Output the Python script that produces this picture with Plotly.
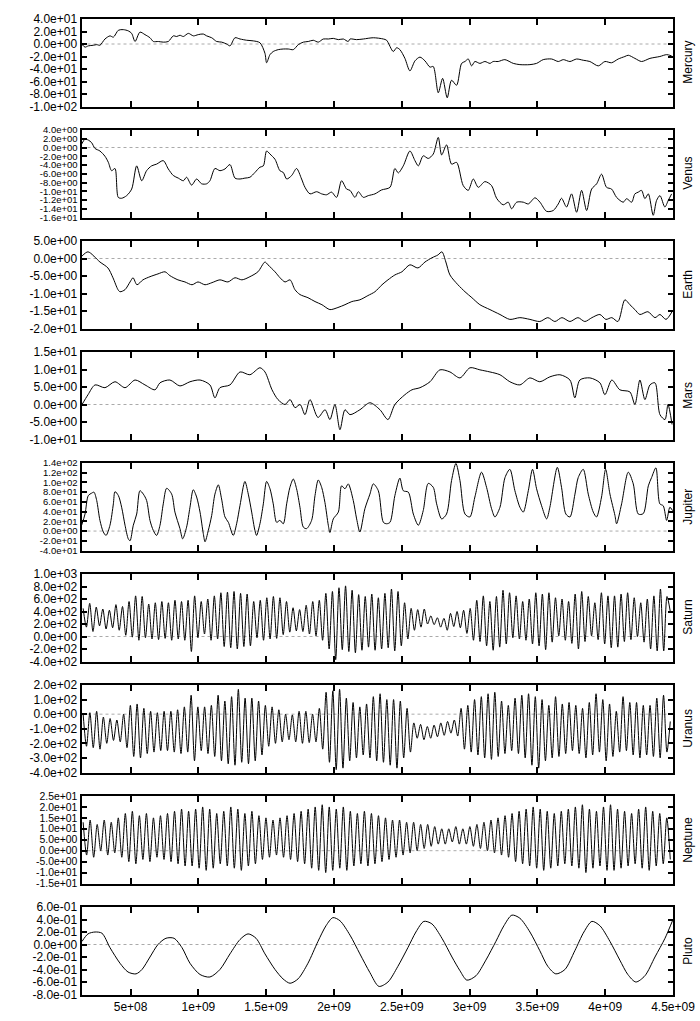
import numpy as np
import plotly.graph_objects as go

# ---------------- data (time in units of 1e9) ----------------
mer_t = [0.139,0.164,0.188,0.225,0.250,0.274,0.311,0.348,0.373,0.410,0.446,0.483,0.508,0.533,0.569,0.606,0.643,0.668,
         0.705,0.741,0.778,0.815,0.840,0.864,0.889,0.926,0.963,0.999,1.036,1.061,1.098,1.135,1.172,1.208,1.233,1.270,
         1.307,1.356,1.405,1.454,1.491,1.503,1.528,1.552,1.589,1.626,1.663,1.700,1.737,1.774,1.810,1.847,1.884,1.921,
         1.958,1.995,2.032,2.069,2.105,
         2.118,2.167,2.216,2.290,2.364,2.388,2.437,2.462,2.486,2.523,2.560,2.597,2.634,2.671,2.708,2.732,2.769,2.801,
         2.835,2.867,2.904,2.941,2.966,2.990,3.015,3.039,3.076,3.113,3.150,3.174,3.211,3.260,3.322,3.371,3.445,3.494,
         3.543,3.605,3.654,3.691,3.740,3.789,3.838,3.887,3.949,3.998,4.047,4.096,4.145,4.170,4.219,4.268,4.330,4.403,
         4.453,4.490]
mer_v = [0,-5,-3,-2,-1,-2,8,13,11,22,23,21,17,4,19,15,10,4,4,3,4,13,12,14,12,17,13,15,16,13,10,4,3,0,-3,10,
         8,6,5,2,-15,-30,-17,-12,-9,-8,-8,-9,-1,3,4,6,3,8,8,9,7,8,4,
         8,7,8,10,8,6,-12,-6,-9,-23,-43,-27,-21,-27,-37,-36,-78,-55,-86,-58,-66,-31,-28,-24,-35,-28,-31,-28,-31,-28,
         -28,-25,-31,-33,-33,-31,-25,-24,-28,-25,-28,-24,-26,-28,-35,-28,-30,-24,-20,-18,-23,-28,-23,-20,-17,-19]

ven_t = [0.139,0.164,0.188,0.213,0.237,0.274,0.311,0.336,0.360,0.385,0.409,0.434,0.471,0.508,0.545,0.582,0.618,0.655,
         0.692,0.741,0.778,0.815,0.852,0.889,0.913,0.950,0.987,1.024,1.061,1.085,1.122,1.159,1.196,1.233,1.270,1.307,
         1.343,1.380,1.417,1.454,1.479,1.503,1.528,1.565,1.601,1.626,1.651,1.688,1.724,1.761,1.786,1.823,1.872,1.909,
         1.946,1.982,2.019,2.056,2.093,2.118,
         2.155,2.179,2.216,2.253,2.302,2.351,2.413,2.449,2.474,2.511,2.560,2.597,2.622,2.658,2.695,2.732,2.769,2.794,
         2.830,2.867,2.904,2.953,2.990,3.027,3.064,3.113,3.162,3.199,3.248,3.285,3.310,3.347,3.396,3.433,3.482,3.519,
         3.568,3.617,3.654,3.678,3.715,3.752,3.789,3.826,3.863,3.900,3.937,3.973,4.010,4.047,4.084,4.133,4.158,4.195,
         4.219,4.244,4.268,4.293,4.318,4.354,4.379,4.404,4.440,4.465,4.490]
ven_v = [0.8,1.9,1.7,1.1,-0.2,-0.8,-2.0,-3.4,-5.3,-4.8,-11.4,-11.6,-11.0,-9.5,-4.2,-7.6,-5.3,-4.2,-3.8,-3.0,
         -4.9,-6.4,-7.0,-7.6,-6.8,-8.6,-7.2,-8.3,-8.3,-7.6,-4.8,-5.3,-4.9,-3.9,-7.0,-7.2,-7.0,-6.8,-5.7,-4.5,
         -4.2,-0.8,-1.5,-2.7,-5.3,-5.7,-7.2,-6.4,-4.8,-7.2,-9.1,-10.6,-10.1,-10.6,-10.8,-10.2,-11.4,-7.6,-9.5,-9.8,
         -11.4,-10.1,-11.4,-11.0,-10.6,-9.7,-9.1,-4.8,-5.8,-4.2,-0.8,-3.0,-4.2,-1.9,-2.5,-1.5,2.3,-1.7,0.6,-3.8,
         -3.4,-8.7,-9.8,-7.2,-9.1,-7.8,-8.7,-11.6,-13.1,-12.5,-14.0,-12.5,-12.5,-12.9,-11.5,-12.5,-14.6,-14.4,-12.9,-11.6,
         -13.6,-10.6,-14.8,-9.8,-14.4,-9.5,-8.3,-6.1,-9.1,-9.5,-11.4,-12.5,-11.7,-12.5,-10.6,-10.2,-9.8,-11.7,-10.6,-15.5,
         -12.1,-11.0,-13.6,-12.1,-10.6]

ear_t = [0.142,0.186,0.274,0.333,0.370,0.407,0.422,0.459,0.496,0.518,0.547,0.591,0.643,0.702,0.754,0.790,0.849,
         0.901,0.953,0.997,1.049,1.100,1.159,1.218,1.270,1.321,1.380,1.439,1.491,1.513,1.565,1.602,1.639,1.676,
         1.712,1.749,1.808,1.860,1.911,1.970,2.029,2.081,2.132,2.191,2.250,2.302,2.354,2.398,2.449,2.501,2.560,
         2.619,2.671,2.722,2.766,2.796,2.825,2.855,2.914,2.966,3.017,3.076,3.150,3.224,3.297,3.371,3.445,3.518,
         3.577,3.629,3.681,3.740,3.799,3.850,3.902,3.961,4.005,4.049,4.094,4.145,4.182,4.219,4.256,4.315,4.367,
         4.404,4.448,4.493]
ear_v = [0.7,1.9,-1.0,-2.7,-5.5,-8.9,-9.5,-8.9,-6.7,-5.5,-7.5,-6.1,-5.2,-4.4,-3.8,-4.9,-6.1,-6.7,-7.5,-6.7,
         -7.5,-6.9,-6.1,-6.7,-5.5,-6.1,-5.2,-3.8,-1.0,-1.8,-3.8,-5.5,-6.7,-6.1,-8.9,-10.3,-11.2,-12.3,-13.2,-14.6,
         -14.0,-13.2,-12.3,-11.8,-10.6,-9.5,-7.5,-6.1,-4.7,-3.8,-1.8,-2.7,-1.0,0.2,1.0,1.9,-1.0,-4.7,-7.5,-9.5,
         -11.2,-13.2,-14.6,-16.0,-17.4,-16.9,-17.4,-18.0,-16.9,-18.0,-16.9,-18.0,-16.9,-18.0,-16.9,-16.0,-17.4,
         -16.9,-18.0,-11.8,-13.2,-14.6,-16.0,-15.2,-16.9,-16.0,-17.4,-15.2]

mar_t = [0.142,0.186,0.238,0.311,0.385,0.459,0.533,0.606,0.680,0.717,0.790,0.864,0.938,1.012,1.085,1.122,1.159,
         1.233,1.307,1.380,1.454,1.491,1.543,1.587,1.639,1.676,1.713,1.750,1.786,1.823,1.882,1.934,1.970,2.007,
         2.044,2.081,2.118,2.191,2.265,2.339,2.398,2.449,2.523,2.575,2.634,2.708,2.781,2.855,2.929,3.003,3.076,
         3.150,3.224,3.297,3.371,3.445,3.518,3.592,3.666,3.740,3.776,3.813,3.887,3.961,3.998,4.049,4.108,4.182,
         4.219,4.256,4.293,4.330,4.367,4.404,4.441,4.463,4.493]
mar_v = [0.0,2.8,5.6,4.8,6.5,4.8,7.0,5.6,4.2,6.2,7.0,5.3,6.5,7.0,5.6,1.9,4.8,5.6,9.3,8.5,10.5,9.3,4.2,1.4,0.0,
         1.4,-0.9,0.0,-2.9,1.4,-3.7,-1.5,-4.3,0.0,-7.2,-1.5,-2.9,-1.5,0.5,-1.5,-4.3,0.0,2.8,4.2,4.8,6.5,9.9,9.3,
         7.6,10.5,9.9,9.3,8.5,6.5,5.6,7.6,6.5,7.9,8.5,7.0,1.9,7.0,7.6,6.2,2.8,7.0,4.2,3.6,0.0,7.0,1.4,5.6,6.2,
         -2.9,-4.3,0.0,-5.7]

jup_t = [0.139,0.164,0.188,0.213,0.230,0.250,0.274,0.299,0.319,0.348,0.373,0.385,0.410,0.434,0.459,0.483,0.496,
         0.520,0.545,0.569,0.594,0.618,0.643,0.668,0.692,0.717,0.741,0.766,0.803,0.827,0.864,0.884,0.913,0.938,
         0.962,0.987,1.012,1.036,1.049,1.073,1.098,1.122,1.147,1.171,1.196,1.221,1.257,1.282,1.307,1.343,1.368,
         1.393,1.417,1.429,1.454,1.479,1.503,1.528,1.552,1.577,1.601,1.626,1.651,1.675,1.700,1.724,1.749,1.774,
         1.798,1.835,1.860,1.884,1.909,1.933,1.958,1.970,1.995,2.032,2.056,2.081,2.105,2.142,2.167,2.191,2.228,
         2.265,2.290,2.327,2.364,2.388,2.413,2.449,2.486,2.511,2.548,2.585,2.622,2.658,2.695,2.732,2.757,2.794,
         2.830,2.867,2.899,2.929,2.966,3.002,3.039,3.088,3.125,3.162,3.187,3.224,3.261,3.297,3.334,3.371,3.396,
         3.433,3.464,3.494,3.531,3.568,3.592,3.647,3.678,3.710,3.740,3.777,3.801,3.838,3.875,3.912,3.936,3.973,
         4.003,4.035,4.072,4.084,4.121,4.170,4.207,4.244,4.281,4.318,4.342,4.374,4.403,4.428,4.453,4.477,4.497]
jup_v = [12,35,73,78,80,63,22,-2,-9,12,56,81,73,49,12,-16,-20,12,35,83,76,63,22,1,-9,12,56,88,76,39,5,-16,8,49,
         85,70,39,-5,-22,1,32,76,95,66,29,18,-9,15,53,102,76,39,1,-9,15,56,102,87,56,18,22,15,56,90,107,87,49,8,
         5,22,73,105,90,59,12,-3,25,39,93,87,97,63,25,-2,46,76,97,83,18,15,18,73,109,83,80,35,12,42,98,90,56,25,
         35,104,139,104,35,29,70,121,90,46,29,49,110,127,83,49,39,83,127,87,52,25,49,131,90,35,29,76,110,127,76,
         39,29,70,127,76,32,15,56,121,97,35,36,93,110,130,56,52,22,49,42]

sat_ext = [450,150,530,80,470,170,440,120,420,140,510,100,480,20,560,-10,650,-60,640,-20,
           520,-40,540,-50,560,-30,540,-60,580,-40,560,-60,580,-240,650,-20,560,40,600,-60,650,-40,
           700,-160,710,-180,720,-200,690,-160,680,-150,560,-20,580,-60,620,-40,640,-30,620,30,560,70,460,90,
           430,80,500,40,560,10,580,-60,690,-200,720,-370,780,-210,810,-240,740,-260,670,-220,640,-170,680,-220,
           620,-200,690,-180,760,-230,720,-150,540,-40,
           450,100,430,150,440,200,330,190,300,150,290,100,370,160,400,140,420,50,
           450,-60,580,-80,650,-150,560,-220,640,-170,740,-120,700,-20,650,-40,560,-60,600,-120,
           700,-150,680,-210,700,-90,620,10,600,-60,560,-110,680,-200,720,-80,640,10,540,-50,
           700,-120,650,-180,650,-170,680,-80,700,-50,620,0,540,-90,600,-200,650,-230,760,-230,640,400]

ura_ext = [0,-220,10,-230,20,-240,-20,-200,-30,-180,-40,-190,0,-230,
           60,-290,70,-300,40,-270,20,-260,10,-250,20,-250,20,-260,30,-270,50,-260,
           130,-320,50,-250,50,-270,60,-290,
           130,-320,90,-340,120,-350,170,-330,110,-340,110,-320,90,-280,
           60,-220,50,-200,30,-190,0,-175,-5,-190,20,-200,20,-195,0,-190,40,-240,
           150,-330,160,-380,170,-370,110,-320,80,-300,50,-280,70,-300,120,-320,
           140,-330,100,-350,100,-370,90,-300,40,-260,
           -60,-165,-70,-175,-85,-165,-75,-155,-60,-145,-50,-130,-40,-150,
           40,-240,60,-260,100,-280,120,-300,140,-310,150,-290,90,-270,60,-250,110,-270,130,-300,
           140,-350,120,-370,100,-320,60,-300,120,-290,70,-270,80,-250,60,-270,40,-300,80,-280,
           140,-260,100,-320,70,-290,20,-260,120,-250,80,-280,80,-300,60,-280,60,-290,110,-300,130,-260,-50]

nep_ext = [13,-2,14,-3,12,0,14,-2,13,-1,15,-3,
           17,-5,18,-6,16,-4,17,-5,15,-3,16,-4,17,-5,18,-6,19,-7,18,-7,
           19,-8,20,-9,19,-8,17,-6,18,-7,20,-8,19,-9,17,-7,18,-6,16,-4,
           15,-3,14,-2,15,-3,16,-4,17,-5,18,-6,19,-8,20,-9,21,-10,20,-9,
           19,-8,20,-9,18,-7,17,-6,18,-7,17,-6,16,-5,15,-4,14,-3,14,-2,
           13,-1,13,0,12,1,12,2,11,3,
           10,3,10,4,11,3,10,3,11,2,12,1,13,0,14,-1,15,-2,
           16,-3,17,-5,18,-6,19,-7,20,-8,19,-9,18,-8,17,-7,18,-6,19,-7,
           20,-8,21,-10,19,-8,18,-7,20,-9,21,-9,19,-8,18,-7,17,-6,19,-8,20,-9,18,-7,17,-6,15,-4]

plu_t = [0.142,0.186,0.238,0.289,0.348,0.422,0.481,0.540,0.584,0.643,0.702,0.761,0.820,0.879,0.938,1.012,
         1.085,1.159,1.233,1.307,1.366,1.425,1.491,1.565,1.624,1.676,1.735,1.808,1.882,1.941,1.992,2.044,
         2.118,2.191,2.265,2.331,2.398,2.471,2.545,2.604,2.663,2.722,2.796,2.870,2.929,2.980,3.047,3.120,
         3.194,3.253,3.312,3.371,3.445,3.518,3.577,3.636,3.703,3.776,3.843,3.902,3.961,4.035,4.108,4.167,
         4.226,4.293,4.367,4.441,4.500]
plu_v = [0.05,0.17,0.20,0.18,-0.05,-0.30,-0.44,-0.47,-0.40,-0.20,0.00,0.10,0.10,-0.05,-0.30,-0.48,
         -0.52,-0.40,-0.15,0.08,0.17,0.10,-0.15,-0.40,-0.55,-0.62,-0.55,-0.30,0.05,0.30,0.43,0.38,
         0.15,-0.15,-0.45,-0.67,-0.60,-0.35,-0.05,0.20,0.37,0.33,0.10,-0.20,-0.42,-0.57,-0.50,-0.25,
         0.05,0.30,0.47,0.42,0.20,-0.10,-0.35,-0.47,-0.40,-0.10,0.20,0.37,0.30,0.05,-0.25,-0.48,
         -0.60,-0.50,-0.20,0.10,0.40]

names = ["Mercury", "Venus", "Earth", "Mars", "Jupiter", "Saturn", "Uranus", "Neptune", "Pluto"]
x_ticks = [5e8, 1e9, 1.5e9, 2e9, 2.5e9, 3e9, 3.5e9, 4e9, 4.5e9]
x_ticktext = ["5e+08", "1e+09", "1.5e+09", "2e+09", "2.5e+09", "3e+09", "3.5e+09", "4e+09", "4.5e+09"]

series = [
    (mer_t, mer_v, (-100, 40, 20)),
    (ven_t, ven_v, (-16, 4, 2)),
    (ear_t, ear_v, (-20, 5, 5)),
    (mar_t, mar_v, (-10, 15, 5)),
    (jup_t, jup_v, (-40, 140, 20)),
    (list(np.linspace(0.15, 4.48, len(sat_ext))), sat_ext, (-400, 1000, 200)),
    (list(np.linspace(0.15, 4.48, len(ura_ext))), ura_ext, (-400, 200, 100)),
    (list(np.linspace(0.15, 4.48, len(nep_ext))), nep_ext, (-15, 25, 5)),
    (plu_t, plu_v, (-0.8, 0.6, 0.2)),
]

W, H = 700, 1021
LEFT, RIGHT = 81.5, 673.0
XMIN, XMAX = 0.138e9, 4.5e9
PANEL_H = 87.5

fig = go.Figure()
layout = dict(width=W, height=H, margin=dict(l=0, r=0, t=0, b=0, autoexpand=False),
              paper_bgcolor="white", plot_bgcolor="white", showlegend=False,
              font=dict(family="Liberation Sans, Arial, sans-serif", size=12, color="black"))
shapes, annos = [], []
for k, (name, (t, v, (lo, hi, step))) in enumerate(zip(names, series)):
    top = 19 + 111 * k
    bot = top + PANEL_H
    sx = "" if k == 0 else str(k + 1)
    fig.add_trace(go.Scatter(x=[ti * 1e9 for ti in t], y=v, mode="lines",
                             line=dict(color="black", width=1, shape="spline", smoothing=0.8),
                             xaxis="x" + sx, yaxis="y" + sx, hoverinfo="skip"))
    nt = int(round((hi - lo) / step))
    yv = [round(lo + i * step, 6) for i in range(nt + 1)]
    yv = [0.0 if abs(a) < 1e-9 else a for a in yv]
    yt = [f"{a:.1e}" for a in yv]
    spacing = PANEL_H / nt
    yfs = min(12, max(9.5, spacing - 0.5))
    layout["xaxis" + sx] = dict(domain=[LEFT / W, RIGHT / W], range=[XMIN, XMAX], anchor="y" + sx,
                                showline=True, linewidth=2, linecolor="black", mirror="ticks",
                                ticks="inside", ticklen=6, tickwidth=1.5, tickcolor="black",
                                tickmode="array", tickvals=x_ticks, ticktext=x_ticktext,
                                showticklabels=(k == 8), showgrid=False, zeroline=False,
                                tickfont=dict(size=12), automargin=False)
    layout["yaxis" + sx] = dict(domain=[1 - bot / H, 1 - top / H], range=[lo, hi], anchor="x" + sx,
                                showline=True, linewidth=2, linecolor="black", mirror="ticks",
                                ticks="inside", ticklen=5, tickwidth=1.5, tickcolor="black",
                                tickmode="array", tickvals=yv, ticktext=yt, showgrid=False,
                                zeroline=False, tickfont=dict(size=yfs), automargin=False)
    shapes.append(dict(type="line", xref=("x" + sx + " domain"), yref="y" + sx, x0=0, x1=1, y0=0, y1=0,
                       line=dict(color="#aaaaaa", width=1, dash="dot"), layer="below"))
    annos.append(dict(text=name, xref="paper", yref="paper", x=688 / W, y=1 - (top + bot) / 2 / H,
                      textangle=-90, showarrow=False, xanchor="center", yanchor="middle",
                      font=dict(size=12, color="black")))
layout["shapes"] = shapes
layout["annotations"] = annos
fig.update_layout(**layout)
fig.write_html("out.html", config={"displayModeBar": False},
               post_script="document.body.style.margin='0';document.body.style.overflow='hidden';")
